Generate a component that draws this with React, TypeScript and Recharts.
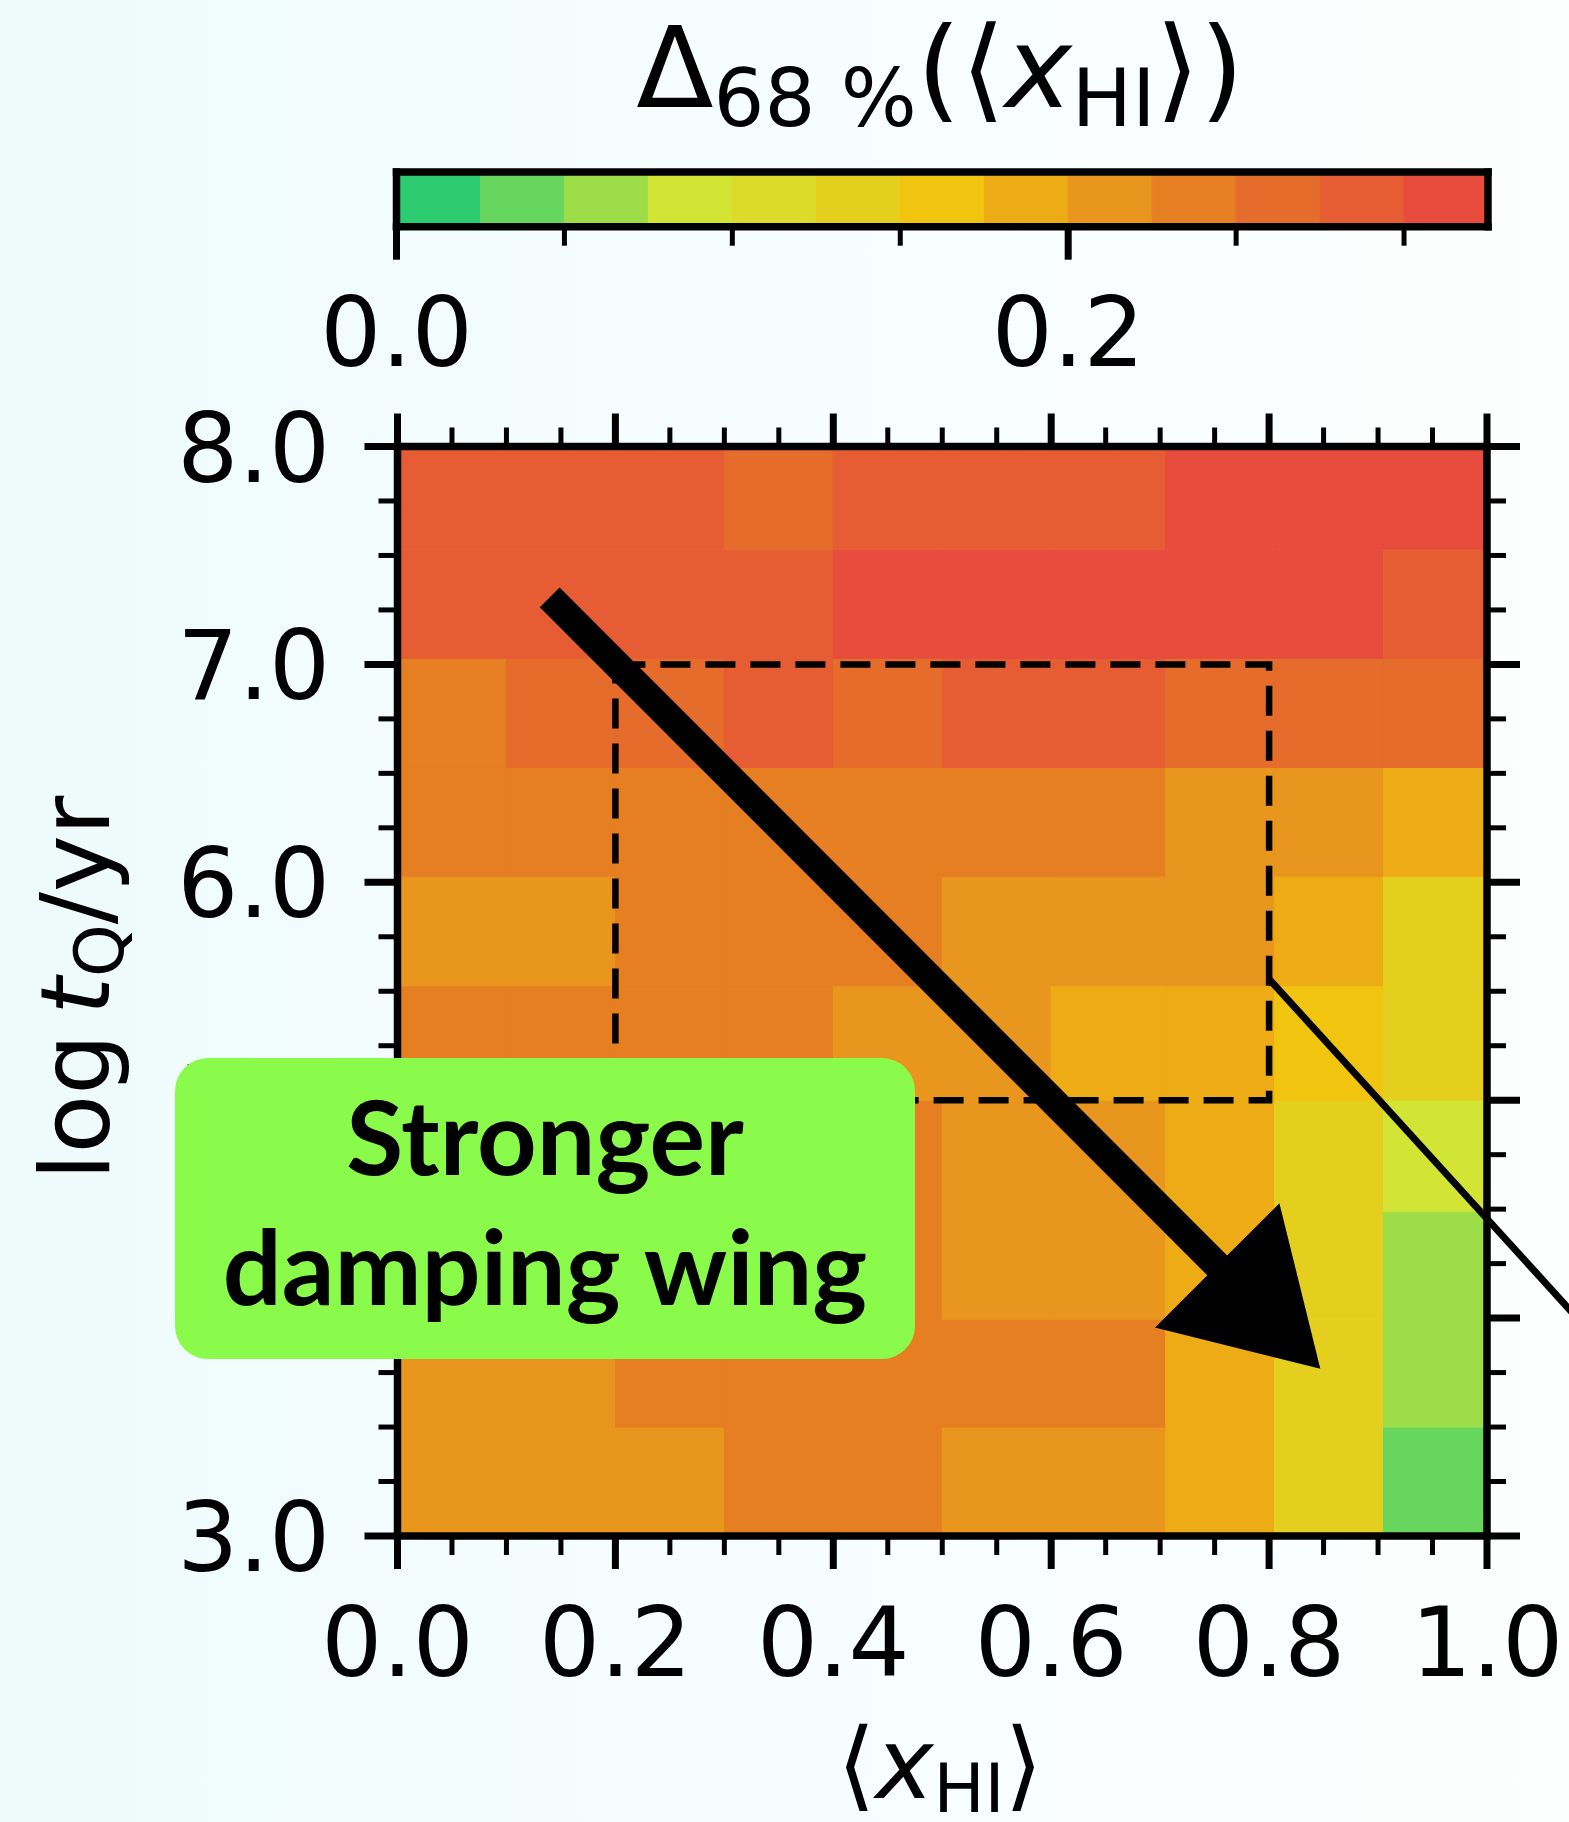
import React from "react";
import { ComposedChart, XAxis, YAxis, ReferenceArea, ReferenceLine, Scatter } from "recharts";

const W = 1569;
const H = 1822;

// discrete colour scale for the 68% width, 13 bins of 0.025
const binColors = [
  "#2ecc71", "#66d65e", "#9ddd48", "#d2e534", "#dcdb2a", "#e5cf1e", "#f1c40f",
  "#edab16", "#e9961e", "#e67e22", "#e66c2c", "#e65d34", "#e74c3c",
];
const binWidth = 0.025;
const cbarTicks = [0, 0.05, 0.1, 0.15, 0.2, 0.25, 0.3];

// cell edges of the raster (slightly uneven after resampling)
const xhiEdges = [0, 0.1, 0.2, 0.3, 0.4, 0.5, 0.6, 0.705, 0.805, 0.905, 1.0];
const logtqEdges = [3.0, 3.5, 3.995, 4.49, 5.0, 5.525, 6.028, 6.527, 7.028, 7.529, 8.0];

// Δ68% per cell; one row per log tQ bin, starting at the bottom
const delta68 = [
  [0.213, 0.216, 0.211, 0.236, 0.239, 0.214, 0.218, 0.188, 0.139, 0.044],
  [0.217, 0.221, 0.232, 0.238, 0.236, 0.241, 0.234, 0.186, 0.143, 0.068],
  [0.219, 0.229, 0.235, 0.24, 0.237, 0.217, 0.212, 0.191, 0.138, 0.063],
  [0.231, 0.236, 0.242, 0.239, 0.244, 0.219, 0.214, 0.184, 0.146, 0.088],
  [0.236, 0.241, 0.238, 0.233, 0.218, 0.212, 0.192, 0.187, 0.163, 0.141],
  [0.214, 0.221, 0.237, 0.243, 0.234, 0.216, 0.219, 0.211, 0.189, 0.144],
  [0.238, 0.242, 0.236, 0.244, 0.239, 0.241, 0.237, 0.219, 0.214, 0.193],
  [0.246, 0.262, 0.266, 0.284, 0.268, 0.286, 0.281, 0.263, 0.259, 0.266],
  [0.287, 0.291, 0.283, 0.289, 0.309, 0.314, 0.311, 0.307, 0.306, 0.292],
  [0.288, 0.284, 0.292, 0.271, 0.286, 0.293, 0.289, 0.306, 0.312, 0.318],
];

const xTicks = [
  0, 0.05, 0.1, 0.15, 0.2, 0.25, 0.3, 0.35, 0.4, 0.45, 0.5,
  0.55, 0.6, 0.65, 0.7, 0.75, 0.8, 0.85, 0.9, 0.95, 1.0,
];
const yTicks = [
  3, 3.25, 3.5, 3.75, 4, 4.25, 4.5, 4.75, 5, 5.25, 5.5,
  5.75, 6, 6.25, 6.5, 6.75, 7, 7.25, 7.5, 7.75, 8,
];

// prior box and the two annotation lines, in data units
const priorBox = { x1: 0.2, x2: 0.8, y1: 5.0, y2: 7.0 };
const trendArrow = [{ x: 0.1397, y: 7.308 }, { x: 0.7549, y: 4.229 }];
const zoomLine = [{ x: 0.8, y: 5.556 }, { x: 1.1, y: 3.906 }];

const FONT = "DejaVu Sans";
const SPINE = { stroke: "#000", strokeWidth: 7.5, strokeLinecap: "square" as const };

function colorFor(v: number): string {
  const i = Math.floor(v / binWidth);
  return binColors[Math.max(0, Math.min(binColors.length - 1, i))];
}

function isMultiple(v: number, step: number): boolean {
  const r = v / step;
  return Math.abs(r - Math.round(r)) < 1e-6;
}

type Side = "bottom" | "top" | "left" | "right";

function makeTick(side: Side, majorStep: number, labelOffset: number | null) {
  return function AxisTick(props: any) {
    const { x, y, payload } = props;
    const v = payload.value as number;
    const major = isMultiple(v, majorStep);
    const len = major ? 33 : 19;
    const sw = major ? 7 : 5;
    let line;
    if (side === "bottom") line = <line x1={x} x2={x} y1={y} y2={y + len} />;
    else if (side === "top") line = <line x1={x} x2={x} y1={y} y2={y - len} />;
    else if (side === "left") line = <line x1={x} x2={x - len} y1={y} y2={y} />;
    else line = <line x1={x} x2={x + len} y1={y} y2={y} />;
    let label = null;
    if (major && labelOffset !== null) {
      label =
        side === "left" ? (
          <text x={x - labelOffset} y={y + 35} textAnchor="end" fontSize={96} fontFamily={FONT} fill="#000">
            {v.toFixed(1)}
          </text>
        ) : (
          <text x={x} y={y + labelOffset} textAnchor="middle" fontSize={96} fontFamily={FONT} fill="#000">
            {v.toFixed(1)}
          </text>
        );
    }
    return (
      <g>
        <g stroke="#000" strokeWidth={sw}>{line}</g>
        {label}
      </g>
    );
  };
}

const cells = delta68.flatMap((row, j) =>
  row.map((v, i) => ({
    x1: xhiEdges[i],
    x2: xhiEdges[i + 1],
    y1: logtqEdges[j],
    y2: logtqEdges[j + 1],
    xhi: (xhiEdges[i] + xhiEdges[i + 1]) / 2,
    logtq: (logtqEdges[j] + logtqEdges[j + 1]) / 2,
    delta: v,
    color: colorFor(v),
  }))
);

const cbarBins = binColors.map((c, i) => ({
  lo: i * binWidth,
  hi: (i + 1) * binWidth,
  mid: (i + 0.5) * binWidth,
  level: 0.5,
  color: c,
}));

const NoMark = () => <g />;

function HeatmapPanel() {
  return (
    <ComposedChart
      width={W}
      height={H}
      data={cells}
      margin={{ top: 445.5, right: 81, bottom: 285, left: 396.5 }}
    >
      {cells.map((c, k) => (
        <ReferenceArea
          key={k}
          x1={c.x1}
          x2={c.x2}
          y1={c.y1}
          y2={c.y2}
          fill={c.color}
          fillOpacity={1}
          stroke={c.color}
          strokeWidth={1}
        />
      ))}
      <Scatter data={cells} dataKey="logtq" shape={NoMark} isAnimationActive={false} />
      <ReferenceArea
        x1={priorBox.x1}
        x2={priorBox.x2}
        y1={priorBox.y1}
        y2={priorBox.y2}
        fill="none"
        fillOpacity={0}
        stroke="#000"
        strokeWidth={6.5}
        strokeDasharray="30 15"
      />
      <ReferenceLine
        segment={trendArrow}
        stroke="#000"
        strokeWidth={28}
        markerEnd="url(#trendHead)"
        ifOverflow="visible"
      />
      <ReferenceLine segment={zoomLine} stroke="#000" strokeWidth={7} ifOverflow="visible" />
      <XAxis
        dataKey="xhi"
        type="number"
        domain={[0, 1]}
        ticks={xTicks}
        interval={0}
        allowDataOverflow
        height={1}
        tickSize={0}
        tickMargin={0}
        tickLine={false}
        axisLine={SPINE}
        tick={makeTick("bottom", 0.2, 140)}
      />
      <XAxis
        xAxisId="top"
        orientation="top"
        dataKey="xhi"
        type="number"
        domain={[0, 1]}
        ticks={xTicks}
        interval={0}
        allowDataOverflow
        height={1}
        tickSize={0}
        tickMargin={0}
        tickLine={false}
        axisLine={SPINE}
        tick={makeTick("top", 0.2, null)}
      />
      <YAxis
        dataKey="logtq"
        type="number"
        domain={[3, 8]}
        ticks={yTicks}
        interval={0}
        allowDataOverflow
        width={1}
        tickSize={0}
        tickMargin={0}
        tickLine={false}
        axisLine={SPINE}
        tick={makeTick("left", 1, 67.5)}
      />
      <YAxis
        yAxisId="right"
        orientation="right"
        dataKey="logtq"
        type="number"
        domain={[3, 8]}
        ticks={yTicks}
        interval={0}
        allowDataOverflow
        width={1}
        tickSize={0}
        tickMargin={0}
        tickLine={false}
        axisLine={SPINE}
        tick={makeTick("right", 1, null)}
      />
    </ComposedChart>
  );
}

function Colorbar() {
  return (
    <ComposedChart
      width={W}
      height={420}
      data={cbarBins}
      margin={{ top: 171, right: 80, bottom: 192.3, left: 395.5 }}
    >
      {cbarBins.map((b) => (
        <ReferenceArea
          key={b.color}
          x1={b.lo}
          x2={b.hi}
          y1={0}
          y2={1}
          fill={b.color}
          fillOpacity={1}
          stroke={b.color}
          strokeWidth={1}
        />
      ))}
      <Scatter data={cbarBins} dataKey="level" shape={NoMark} isAnimationActive={false} />
      <XAxis
        dataKey="mid"
        type="number"
        domain={[0, binColors.length * binWidth]}
        ticks={cbarTicks}
        interval={0}
        allowDataOverflow
        height={1}
        tickSize={0}
        tickMargin={0}
        tickLine={false}
        axisLine={SPINE}
        tick={makeTick("bottom", 0.2, 139)}
      />
      <XAxis
        xAxisId="top"
        orientation="top"
        dataKey="mid"
        type="number"
        domain={[0, binColors.length * binWidth]}
        allowDataOverflow
        height={1}
        tick={false}
        tickLine={false}
        axisLine={SPINE}
      />
      <YAxis dataKey="level" type="number" domain={[0, 1]} allowDataOverflow width={1} tick={false} tickLine={false} axisLine={SPINE} />
      <YAxis
        yAxisId="right"
        orientation="right"
        dataKey="level"
        type="number"
        domain={[0, 1]}
        allowDataOverflow
        width={1}
        tick={false}
        tickLine={false}
        axisLine={SPINE}
      />
    </ComposedChart>
  );
}

export default function App() {
  return (
    <div
      style={{
        position: "absolute",
        left: 0,
        top: 0,
        width: W,
        height: H,
        overflow: "hidden",
        background: "linear-gradient(90deg, #eefbfb 0%, #f6fdfd 45%, #fdfefe 100%)",
      }}
    >
      <div style={{ position: "absolute", left: 0, top: 0 }}>
        <HeatmapPanel />
      </div>
      <div style={{ position: "absolute", left: 0, top: 0 }}>
        <Colorbar />
      </div>
      <svg width={W} height={H} style={{ position: "absolute", left: 0, top: 0, pointerEvents: "none" }}>
        <defs>
          <marker
            id="trendHead"
            markerUnits="userSpaceOnUse"
            markerWidth={150}
            markerHeight={180}
            viewBox="0 0 150 180"
            refX={4}
            refY={90}
            orient="auto"
          >
            <path d="M0,2 L146,90 L0,178 Z" fill="#000" />
          </marker>
        </defs>

        {/* colour bar title */}
        <text x={940} y={107} textAnchor="middle" fontSize={113} fontFamily={FONT} fill="#000">
          Δ<tspan fontSize={80} dy={19}>68 %</tspan>
          <tspan dy={-19}>(⟨</tspan>
          <tspan fontStyle="italic">x</tspan>
          <tspan fontSize={80} dy={19}>HI</tspan>
          <tspan dy={-19}>⟩)</tspan>
        </text>

        {/* axis labels */}
        <text x={940} y={1798} textAnchor="middle" fontSize={98} fontFamily={FONT} fill="#000">
          ⟨<tspan fontStyle="italic">x</tspan>
          <tspan fontSize={68} dy={14}>HI</tspan>
          <tspan dy={-14}>⟩</tspan>
        </text>
        <text
          transform="translate(109,988) rotate(-90)"
          textAnchor="middle"
          fontSize={96}
          fontFamily={FONT}
          fill="#000"
        >
          log{"\u2009"}<tspan fontStyle="italic">t</tspan>
          <tspan fontSize={67} dy={14}>Q</tspan>
          <tspan dy={-14}>/yr</tspan>
        </text>

        {/* callout */}
        <rect x={175} y={1058} width={740} height={301} rx={33} fill="#8afa4b" />
        <text x={545} y={1175} textAnchor="middle" fontSize={104} fontWeight={700} fontFamily="Lato, sans-serif" fill="#000">
          Stronger
        </text>
        <text x={545} y={1305} textAnchor="middle" fontSize={104} fontWeight={700} fontFamily="Lato, sans-serif" fill="#000">
          damping wing
        </text>
      </svg>
    </div>
  );
}
